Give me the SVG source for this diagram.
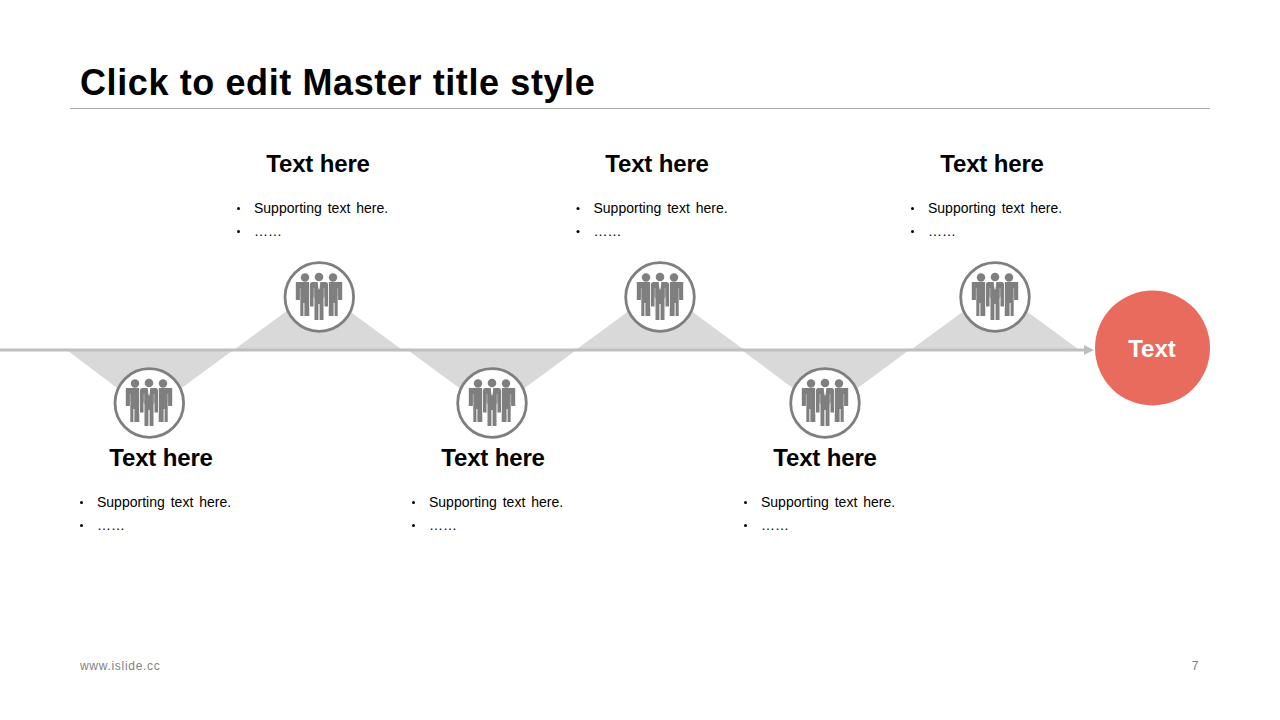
<svg xmlns="http://www.w3.org/2000/svg" xmlns:xlink="http://www.w3.org/1999/xlink" width="1280" height="720" viewBox="0 0 1280 720">
<style>
text{font-family:"Liberation Sans",Arial,sans-serif;fill:#000}
.title{font-size:36px;font-weight:700;letter-spacing:.6px}
.head{font-size:24px;font-weight:700;text-anchor:middle;letter-spacing:-.15px}
.body{font-size:14px;word-spacing:2.1px}
.foot{font-size:12px;fill:#7f7f7f;letter-spacing:.7px}
.tri{fill:#d9d9d9}
.ring{fill:#fff;stroke:#7f7f7f;stroke-width:2.800}
.fig{fill:#7f7f7f}
.slit{fill:none;stroke:#bdbdbd;stroke-width:.8}
</style>
<defs>
<g id="side">
<circle cx="0" cy="-18.500" r="4.200"/>
<path d="M-9-14H4.500V20H-.4V7H-1.400V20H-4.500V-1L-5 4H-9Z" transform="translate(-.2 0)"/>
<path class="slit" d="M-4.700-8V3"/>
</g>
<g id="center">
<circle cx="0" cy="-19" r="4.300"/>
<path d="M-6.500-14H6.500Q9-14 9-11.500V10.500H5.500V0L4.500 3V24H.6V8H-.6V24H-4.500V3L-5.500 0V10.500H-9V-11.500Q-9-14-6.500-14Z"/>
<path class="slit" d="M-5-8V10M5-8V10"/>
</g>
<g id="team">
<g class="fig">
<use href="#side" x="-14"/>
<use href="#side" transform="translate(14 0) scale(-1 1)"/>
<path d="M-9.800-14.500H9.800V12H-9.800Z" fill="#fff" opacity=".6"/>
<use href="#center"/>
</g>
<path d="M-1.300-14H1.300L.7-8 0-6-.7-8Z" fill="#fff"/>
</g>
<g id="bullets">
<circle cx="-15.500" cy="-4.500" r="1.500"/>
<circle cx="-15.500" cy="18.500" r="1.500"/>
</g>
</defs>
<g id="title"><text class="title" x="80" y="95">Click to edit Master title style</text>
<path d="M70 108.500H1210" stroke="#a6a6a6" stroke-width="1" fill="none"/></g>
<g id="connectors">
<path class="tri" d="M235 349 318 288 401 349ZM68 351 149 412 232 351ZM409 351 492 412 575 351ZM577 349 660 288 743 349ZM743 351 825 412 908 351ZM912 349 995 288 1078 349Z"/>
<path d="M0 350H1085" stroke="#bfbfbf" stroke-width="3" fill="none"/>
<path d="M1084 345 1094 350 1084 355Z" fill="#bfbfbf"/>
</g>
<g id="n1"><circle class="ring" cx="149.300" cy="403" r="34.300"/><use href="#team" x="149" y="402"/>
<text class="head" x="161" y="466">Text here</text><g transform="translate(97 507)"><use href="#bullets"/><text class="body">Supporting text here.</text><text class="body" y="22.500">……</text></g></g>
<g id="n2"><circle class="ring" cx="319.300" cy="297" r="34.300"/><use href="#team" x="319" y="296"/>
<text class="head" x="318" y="172">Text here</text><g transform="translate(254 213)"><use href="#bullets"/><text class="body">Supporting text here.</text><text class="body" y="22.500">……</text></g></g>
<g id="n3"><circle class="ring" cx="492" cy="403" r="34.300"/><use href="#team" x="492" y="402"/>
<text class="head" x="493" y="466">Text here</text><g transform="translate(429 507)"><use href="#bullets"/><text class="body">Supporting text here.</text><text class="body" y="22.500">……</text></g></g>
<g id="n4"><circle class="ring" cx="660" cy="297" r="34.300"/><use href="#team" x="660" y="296"/>
<text class="head" x="657" y="172">Text here</text><g transform="translate(593.500 213)"><use href="#bullets"/><text class="body">Supporting text here.</text><text class="body" y="22.500">……</text></g></g>
<g id="n5"><circle class="ring" cx="825" cy="403" r="34.300"/><use href="#team" x="825" y="402"/>
<text class="head" x="825" y="466">Text here</text><g transform="translate(761 507)"><use href="#bullets"/><text class="body">Supporting text here.</text><text class="body" y="22.500">……</text></g></g>
<g id="n6"><circle class="ring" cx="995" cy="297" r="34.300"/><use href="#team" x="995" y="296"/>
<text class="head" x="992" y="172">Text here</text><g transform="translate(928 213)"><use href="#bullets"/><text class="body">Supporting text here.</text><text class="body" y="22.500">……</text></g></g>
<g id="end"><circle cx="1152.500" cy="348" r="57.500" fill="#e96b5e"/><text x="1152" y="357" font-size="24" font-weight="700" text-anchor="middle" style="fill:#fff">Text</text></g>
<g id="footer"><text class="foot" x="80" y="670">www.islide.cc</text><text class="foot" x="1199" y="670" text-anchor="end">7</text></g>
</svg>
